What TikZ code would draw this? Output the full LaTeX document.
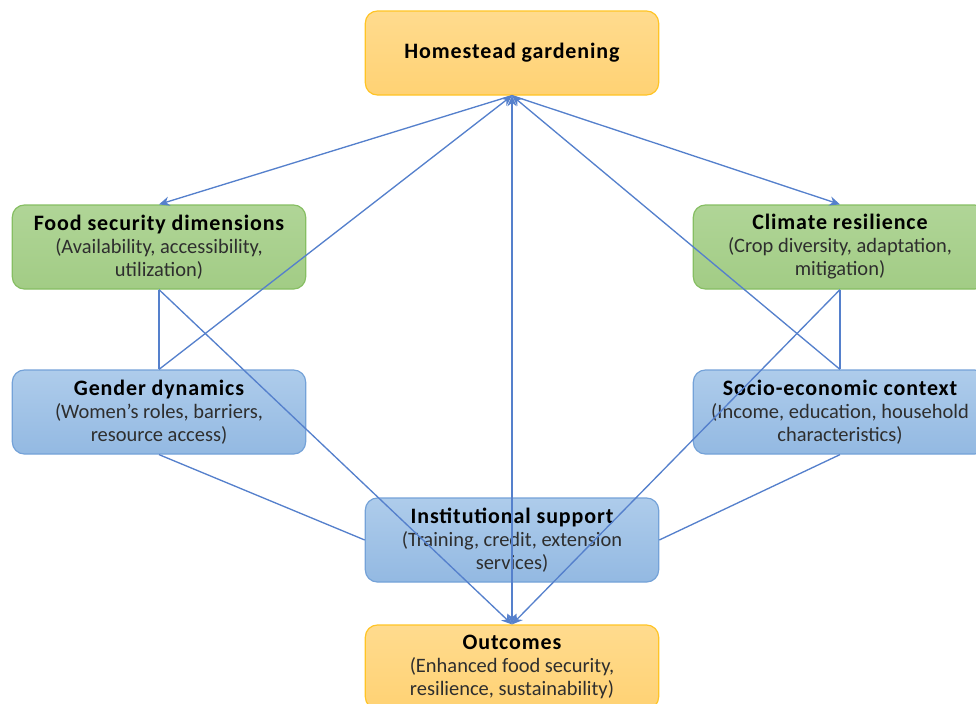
\documentclass[tikz,border=0pt]{standalone}
\usepackage{fontspec}
\setmainfont{Carlito}
\newfontfamily\headfont[LetterSpace=4.0]{Carlito}
\usetikzlibrary{arrows.meta}
\definecolor{linkblue}{HTML}{5580CC}
\definecolor{goldline}{HTML}{FFC425}
\definecolor{goldtop}{HTML}{FFDB8E}
\definecolor{goldbot}{HTML}{FFD274}
\definecolor{greenline}{HTML}{86BE62}
\definecolor{greentop}{HTML}{B0D597}
\definecolor{greenbot}{HTML}{A2CC85}
\definecolor{blueline}{HTML}{74A2D8}
\definecolor{bluetop}{HTML}{AECCEB}
\definecolor{bluebot}{HTML}{93B9E2}
\newcommand{\boxhead}[1]{{\headfont\bfseries\fontsize{16.5}{17.25}\selectfont\color{black}#1}}
\begin{document}
\begin{tikzpicture}
      [x=0.75pt,y=-0.75pt,
      box/.style={rectangle,rounded corners=9pt,minimum width=220pt,
        minimum height=63pt,align=center,line width=0.9pt,text=black!82,
        font=\fontsize{15.35}{17.25}\selectfont},
      gold box/.style={box,draw=goldline,top color=goldtop,bottom color=goldbot},
      green box/.style={box,draw=greenline,top color=greentop,bottom color=greenbot},
      blue box/.style={box,draw=blueline,top color=bluetop,bottom color=bluebot},
      link/.style={draw=linkblue,line width=1pt},
      arrow/.style={link,-{Stealth[length=8pt,width=7pt]}},
      arrows both/.style={link,{Stealth[length=8pt,width=7pt]}-{Stealth[length=8pt,width=7pt]}}]
      \useasboundingbox (0,0) rectangle (976,704);
      \node[gold box] (garden) at (512,53) {\boxhead{Homestead gardening}};
      \node[green box] (food) at (159,247)
        {\boxhead{Food security dimensions}\\(Availability, accessibility,\\utilization)};
      \node[green box] (climate) at (840,247)
        {\boxhead{Climate resilience}\\(Crop diversity, adaptation,\\mitigation)};
      \node[blue box] (gender) at (159,412)
        {\boxhead{Gender dynamics}\\(Women's roles, barriers,\\resource access)};
      \node[blue box] (socio) at (840,412)
        {\boxhead{Socio-economic context}\\(Income, education, household\\characteristics)};
      \node[blue box] (support) at (512,540)
        {\boxhead{Institutional support}\\(Training, credit, extension\\services)};
      \node[gold box] (outcome) at (512,667)
        {\boxhead{Outcomes}\\(Enhanced food security,\\resilience, sustainability)};
      % links drawn over the boxes
      \path (garden.south) edge[arrow] (food.north);
      \path (garden.south) edge[arrow] (climate.north);
      \path (gender.north) edge[arrow] (garden.south);
      \path (socio.north) edge[arrow] (garden.south);
      \path (food.south) edge[arrow] (outcome.north);
      \path (climate.south) edge[arrow] (outcome.north);
      \path (garden.south) edge[arrows both] (outcome.north);
      \path (food.south) edge[link] (gender.north);
      \path (climate.south) edge[link] (socio.north);
      \path (gender.south) edge[link] (support.west);
      \path (socio.south) edge[link] (support.east);
\end{tikzpicture}
\end{document}
